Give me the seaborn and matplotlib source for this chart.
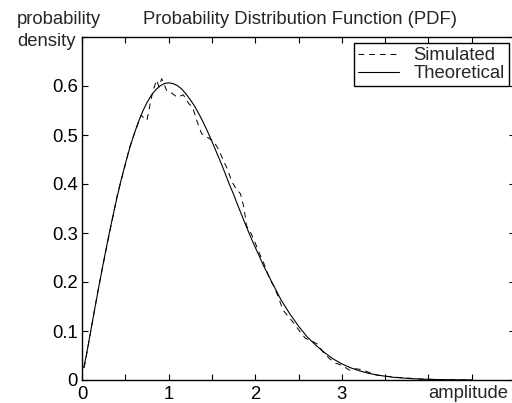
import pandas as pd
import matplotlib
matplotlib.use("Agg")
import matplotlib.pyplot as plt
import seaborn as sns

# Simulated histogram-based pdf
sim_x = [0.025, 0.10, 0.18, 0.26, 0.33, 0.41, 0.48, 0.55, 0.62, 0.68, 0.75, 0.80,
         0.82, 0.86, 0.89, 0.92, 0.98, 1.04, 1.10, 1.17, 1.23, 1.28, 1.33, 1.38,
         1.45, 1.52, 1.58, 1.63, 1.68, 1.73, 1.78, 1.83, 1.87, 1.90, 1.95, 2.00,
         2.05, 2.10, 2.17, 2.22, 2.27, 2.32, 2.38, 2.45, 2.52, 2.58, 2.65, 2.72,
         2.78, 2.85, 2.92, 3.00, 3.09, 3.16, 3.24, 3.32, 3.40, 3.50, 3.60, 3.75,
         3.90, 4.10, 4.30, 4.50]
sim_y = [0.025, 0.098, 0.178, 0.250, 0.310, 0.380, 0.425, 0.475, 0.510, 0.540, 0.530, 0.575,
         0.590, 0.612, 0.598, 0.615, 0.590, 0.585, 0.577, 0.582, 0.565, 0.555, 0.527, 0.503,
         0.495, 0.487, 0.470, 0.449, 0.430, 0.405, 0.390, 0.380, 0.352, 0.315, 0.300, 0.280,
         0.258, 0.238, 0.205, 0.190, 0.168, 0.143, 0.130, 0.115, 0.098, 0.085, 0.080, 0.073,
         0.058, 0.045, 0.035, 0.030, 0.020, 0.023, 0.021, 0.015, 0.010, 0.008, 0.006, 0.004,
         0.002, 0.001, 0.0005, 0.0]

# Theoretical curve
theo_x = [0.02, 0.05, 0.1, 0.15, 0.2, 0.25, 0.3, 0.35, 0.4, 0.45, 0.5, 0.55, 0.6, 0.65,
          0.7, 0.75, 0.8, 0.85, 0.9, 0.95, 1.0, 1.05, 1.1, 1.15, 1.2, 1.25, 1.3, 1.35,
          1.4, 1.45, 1.5, 1.55, 1.6, 1.65, 1.7, 1.75, 1.8, 1.85, 1.9, 1.95, 2.0, 2.1,
          2.2, 2.3, 2.4, 2.5, 2.6, 2.7, 2.8, 2.9, 3.0, 3.1, 3.2, 3.3, 3.4, 3.5, 3.6,
          3.8, 4.0, 4.2, 4.5]
theo_y = [0.025, 0.050, 0.0995, 0.148, 0.196, 0.242, 0.287, 0.329, 0.369, 0.407, 0.441,
          0.473, 0.501, 0.526, 0.548, 0.566, 0.581, 0.592, 0.600, 0.605, 0.6065, 0.605,
          0.601, 0.594, 0.584, 0.572, 0.559, 0.543, 0.526, 0.507, 0.487, 0.466, 0.445,
          0.423, 0.400, 0.379, 0.356, 0.334, 0.312, 0.291, 0.271, 0.232, 0.197, 0.163,
          0.135, 0.110, 0.088, 0.071, 0.056, 0.043, 0.033, 0.025, 0.019, 0.014, 0.0105,
          0.0077, 0.0055, 0.0028, 0.0013, 0.0006, 0.0002]

x_ticks = [0, 0.5, 1, 1.5, 2, 2.5, 3, 3.5, 4, 4.5, 5]
x_labels = ["0", "", "1", "", "2", "", "3", "", "", "", ""]
y_ticks = [0, 0.1, 0.2, 0.3, 0.4, 0.5, 0.6, 0.7]
y_labels = ["0", "0.1", "0.2", "0.3", "0.4", "0.5", "0.6", ""]

FS = 13.3

sns.set_style("ticks")
plt.rcParams["font.family"] = ["Liberation Sans", "DejaVu Sans"]
plt.rcParams["font.size"] = FS

sim = pd.DataFrame({"x": sim_x, "y": sim_y})
theo = pd.DataFrame({"x": theo_x, "y": theo_y})

fig = plt.figure(figsize=(5.12, 4.03), dpi=100)
ax = fig.add_axes([82 / 512, 23 / 403, 433 / 512, 343 / 403])

sns.lineplot(data=sim, x="x", y="y", ax=ax, color="black", lw=0.7,
             linestyle=(0, (6, 5)), label="Simulated", sort=False)
sns.lineplot(data=theo, x="x", y="y", ax=ax, color="black", lw=0.8,
             label="Theoretical", sort=False)

ax.set_xlim(0, 5)
ax.set_ylim(0, 0.7)
ax.set_xticks(x_ticks)
ax.set_xticklabels(x_labels)
ax.set_yticks(y_ticks)
ax.set_yticklabels(y_labels)
ax.set_xlabel("")
ax.set_ylabel("")
ax.tick_params(direction="in", length=4, width=0.8, top=True, right=True,
               labelsize=FS, colors="black")
ax.tick_params(axis="x", pad=4)
ax.tick_params(axis="y", pad=3)
for s in ax.spines.values():
    s.set_visible(True)
    s.set_linewidth(1.0)
    s.set_color("black")

leg = ax.legend(loc="upper right", fontsize=FS, frameon=True, fancybox=False,
                edgecolor="black", framealpha=1, borderpad=0.2, labelspacing=0.05,
                handlelength=2.2, handletextpad=0.8, borderaxespad=0.35)
leg.get_frame().set_linewidth(1.0)

fig.text(300 / 512, 1 - 20 / 403, "Probability Distribution Function (PDF)",
         ha="center", va="center", fontsize=FS)
fig.text(17 / 512, 1 - 20 / 403, "probability", ha="left", va="center", fontsize=FS)
fig.text(17 / 512, 1 - 42 / 403, "density", ha="left", va="center", fontsize=FS)
fig.text(508 / 512, 1 - 394 / 403, "amplitude", ha="right", va="center", fontsize=FS)

fig.savefig("out.png", dpi=100, facecolor="white")
